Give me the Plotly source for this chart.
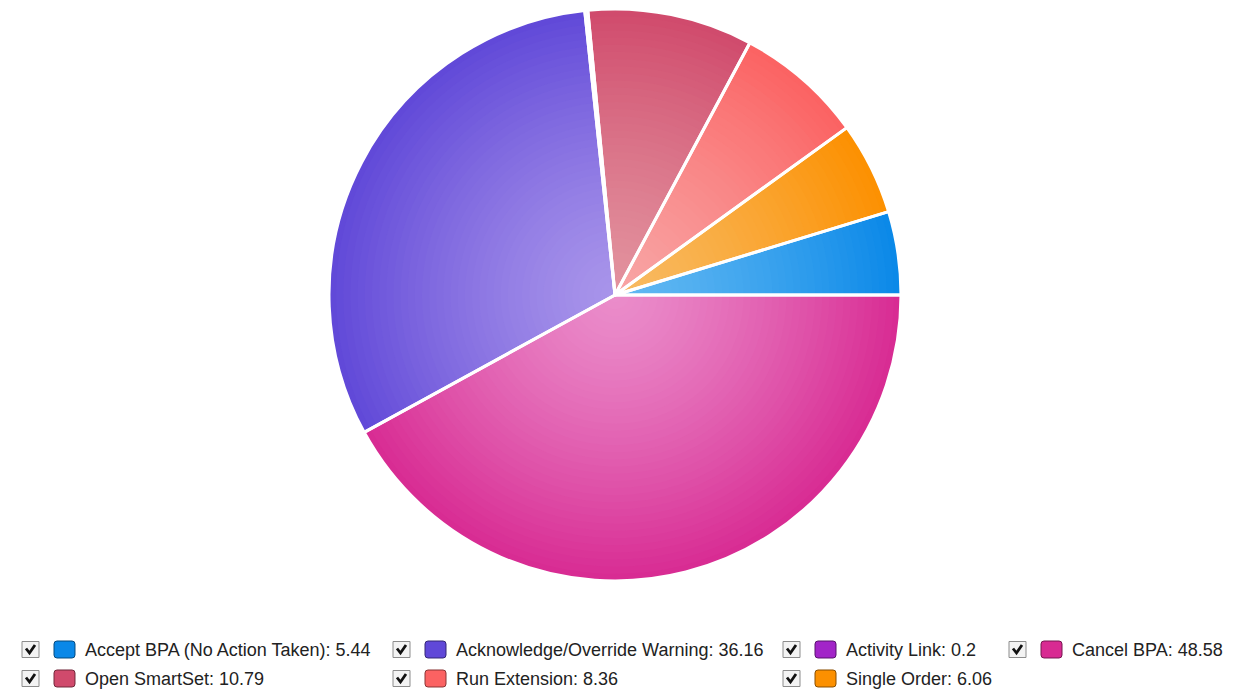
import plotly.graph_objects as go

# ---------------- data (legend order) ----------------
labels = ["Accept BPA (No Action Taken)", "Acknowledge/Override Warning", "Activity Link",
          "Cancel BPA", "Open SmartSet", "Run Extension", "Single Order"]
values = [5.44, 36.16, 0.2, 48.58, 10.79, 8.36, 6.06]
outer_colors = ["#0a88e8", "#6048d8", "#a224c8", "#d82a92", "#d04a6c", "#fb6262", "#fc9000"]
inner_colors = ["#62b8f2", "#a894ea", "#c884e0", "#ea8cca", "#e2929e", "#f8a4a4", "#f8ba62"]
# clockwise order of slices starting at 3 o'clock
pie_order = ["Cancel BPA", "Acknowledge/Override Warning", "Activity Link", "Open SmartSet",
             "Run Extension", "Single Order", "Accept BPA (No Action Taken)"]
# legend grid: (column, row) of each entry
legend_col = [0, 1, 2, 3, 0, 1, 2]
legend_row = [0, 0, 0, 0, 1, 1, 1]

# ---------------- layout constants ----------------
W, H = 1236, 694
OFF = 8  # page body margin: figure is drawn 8px from the window corner
CX, CY, R = 615, 295, 286


def X(px):
    return min(1.0, max(0.0, (px - OFF) / W))


def Y(py):
    return min(1.0, max(0.0, 1 - (py - OFF) / H))


def hex2rgb(h):
    h = h.lstrip("#")
    return tuple(int(h[i:i + 2], 16) for i in (0, 2, 4))


def mix(c_in, c_out, t):
    a, b = hex2rgb(c_in), hex2rgb(c_out)
    return "rgb(%d,%d,%d)" % tuple(round(a[i] + (b[i] - a[i]) * t) for i in range(3))


idx = [labels.index(l) for l in pie_order]
p_labels = [labels[i] for i in idx]
p_values = [values[i] for i in idx]

fig = go.Figure()

# radial gradient built from nested pies
N = 40
for k in range(N):
    r = R * (1 - k / N)
    f = (r - R / (2 * N)) / R
    t = max(0.0, min(1.0, f)) ** 1.3
    cols = [mix(inner_colors[i], outer_colors[i], t) for i in idx]
    fig.add_trace(go.Pie(
        labels=p_labels, values=p_values, sort=False, direction="clockwise", rotation=90,
        domain=dict(x=[X(CX - r), X(CX + r)], y=[Y(CY + r), Y(CY - r)]),
        marker=dict(colors=cols, line=dict(width=0)),
        textinfo="none", hoverinfo="skip", showlegend=False,
    ))

# top layer: white separators + hover
fig.add_trace(go.Pie(
    labels=p_labels, values=p_values, sort=False, direction="clockwise", rotation=90,
    domain=dict(x=[X(CX - R), X(CX + R)], y=[Y(CY + R), Y(CY - R)]),
    marker=dict(colors=["rgba(0,0,0,0)"] * len(p_labels), line=dict(width=3, color="white")),
    textinfo="none", hovertemplate="%{label}: %{value}<extra></extra>", showlegend=False,
))

# ---------------- legend (grid with checkboxes) ----------------
col_x = [22, 393, 783, 1009]
row_y = [649.5, 678.5]
shapes, annotations = [], []
for i, lab in enumerate(labels):
    x0 = col_x[legend_col[i]]
    yc = row_y[legend_row[i]]
    # checkbox
    shapes.append(dict(type="rect", xref="paper", yref="paper",
                       x0=X(x0), x1=X(x0 + 17), y0=Y(yc + 8), y1=Y(yc - 8),
                       fillcolor="#f3f3f3", line=dict(color="#8c8c8c", width=1)))
    path = "M %f,%f L %f,%f L %f,%f" % (X(x0 + 4), Y(yc - 1), X(x0 + 7.5), Y(yc + 3.5),
                                        X(x0 + 13), Y(yc - 4.5))
    shapes.append(dict(type="path", xref="paper", yref="paper", path=path,
                       line=dict(color="#111111", width=2.8)))
    # swatch (rounded)
    sx0, sx1, sy0, sy1, rr = x0 + 32, x0 + 53, yc - 8.5, yc + 8.5, 3
    p = ("M %f,%f L %f,%f Q %f,%f %f,%f L %f,%f Q %f,%f %f,%f L %f,%f Q %f,%f %f,%f "
         "L %f,%f Q %f,%f %f,%f Z") % (
        X(sx0 + rr), Y(sy0), X(sx1 - rr), Y(sy0), X(sx1), Y(sy0), X(sx1), Y(sy0 + rr),
        X(sx1), Y(sy1 - rr), X(sx1), Y(sy1), X(sx1 - rr), Y(sy1),
        X(sx0 + rr), Y(sy1), X(sx0), Y(sy1), X(sx0), Y(sy1 - rr),
        X(sx0), Y(sy0 + rr), X(sx0), Y(sy0), X(sx0 + rr), Y(sy0))
    oc = hex2rgb(outer_colors[i])
    dark = "rgb(%d,%d,%d)" % tuple(int(c * 0.55) for c in oc)
    shapes.append(dict(type="path", xref="paper", yref="paper", path=p,
                       fillcolor=outer_colors[i], line=dict(color=dark, width=1)))
    annotations.append(dict(xref="paper", yref="paper", x=X(x0 + 61), y=Y(yc),
                            xanchor="left", yanchor="middle", showarrow=False,
                            text="%s: %s" % (lab, values[i]),
                            font=dict(family="Liberation Sans, Arial, sans-serif", size=18,
                                      color="#222222")))

fig.update_layout(
    width=W, height=H, margin=dict(l=0, r=0, t=0, b=0),
    paper_bgcolor="white", plot_bgcolor="white",
    shapes=shapes, annotations=annotations, showlegend=False,
)

fig.write_html("out.html")
